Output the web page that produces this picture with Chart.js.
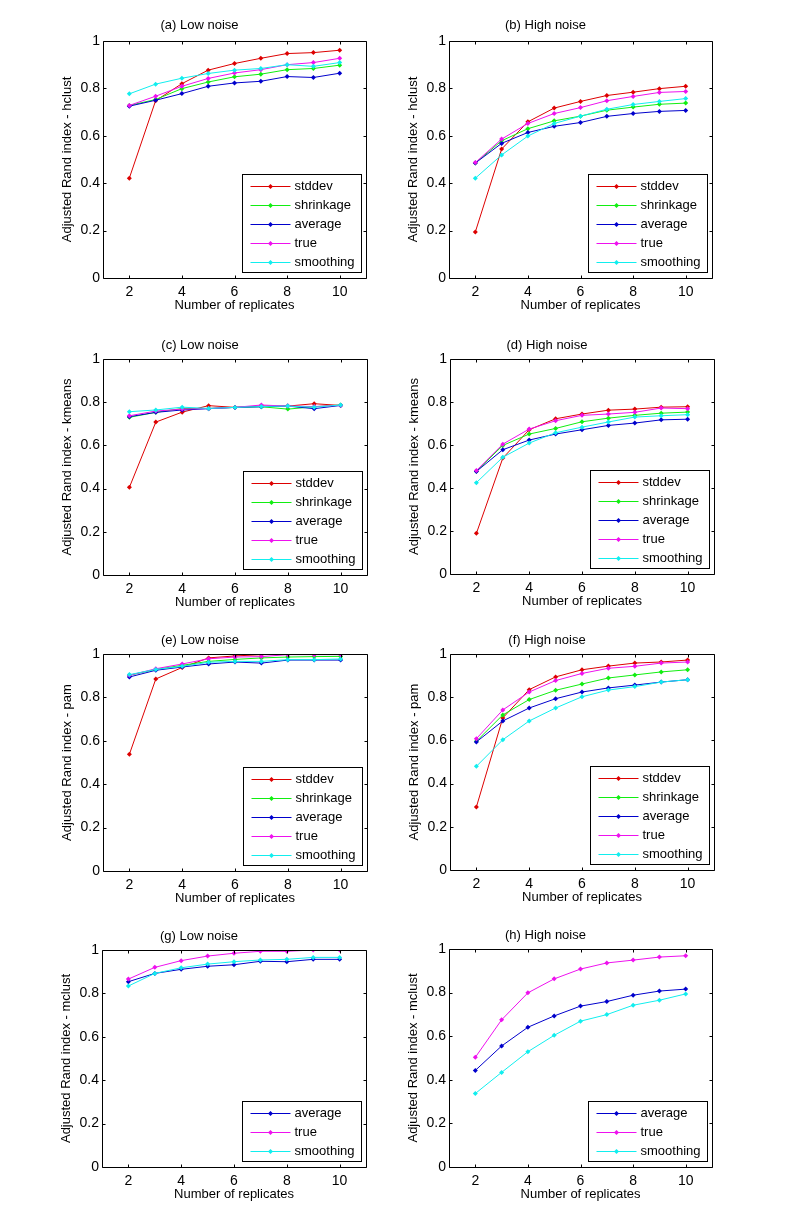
<!DOCTYPE html>
<html>
<head>
<meta charset="utf-8">
<script src="https://cdn.jsdelivr.net/npm/chart.js@4.4.0/dist/chart.umd.min.js"></script>
<style>
  body { margin: 0; background: #fff; }
  #page { position: relative; width: 787px; height: 1226px; background: #fff; }
  .panel { position: absolute; }
</style>
</head>
<body>
<div id="page"></div>
<script>
const replicates = [2, 3, 4, 5, 6, 7, 8, 9, 10];
const xTicks = [2, 4, 6, 8, 10];
const yTicks = [0, 0.2, 0.4, 0.6, 0.8, 1];
const xLabel = 'Number of replicates';

// (a) hclust, low noise
const hclustLowStddev    = [0.421, 0.748, 0.820, 0.877, 0.905, 0.927, 0.947, 0.951, 0.961];
const hclustLowShrinkage = [0.728, 0.753, 0.799, 0.827, 0.849, 0.860, 0.879, 0.884, 0.898];
const hclustLowAverage   = [0.725, 0.750, 0.778, 0.809, 0.823, 0.830, 0.850, 0.846, 0.864];
const hclustLowTrue      = [0.728, 0.767, 0.809, 0.842, 0.865, 0.879, 0.900, 0.909, 0.927];
const hclustLowSmoothing = [0.777, 0.818, 0.843, 0.863, 0.877, 0.884, 0.900, 0.893, 0.909];

// (b) hclust, high noise
const hclustHighStddev    = [0.194, 0.544, 0.659, 0.717, 0.745, 0.770, 0.784, 0.799, 0.809];
const hclustHighShrinkage = [0.485, 0.579, 0.630, 0.663, 0.683, 0.708, 0.721, 0.733, 0.738];
const hclustHighAverage   = [0.485, 0.568, 0.614, 0.640, 0.656, 0.682, 0.694, 0.703, 0.707];
const hclustHighTrue      = [0.487, 0.586, 0.652, 0.694, 0.719, 0.748, 0.766, 0.783, 0.787];
const hclustHighSmoothing = [0.421, 0.519, 0.599, 0.652, 0.683, 0.712, 0.732, 0.745, 0.757];

// (c) kmeans, low noise
const kmeansLowStddev    = [0.406, 0.708, 0.754, 0.784, 0.776, 0.782, 0.782, 0.793, 0.785];
const kmeansLowShrinkage = [0.730, 0.753, 0.771, 0.771, 0.776, 0.779, 0.768, 0.779, 0.787];
const kmeansLowAverage   = [0.733, 0.753, 0.764, 0.770, 0.776, 0.779, 0.782, 0.770, 0.785];
const kmeansLowTrue      = [0.737, 0.759, 0.768, 0.771, 0.776, 0.787, 0.782, 0.780, 0.786];
const kmeansLowSmoothing = [0.756, 0.764, 0.777, 0.771, 0.776, 0.780, 0.782, 0.777, 0.787];

// (d) kmeans, high noise
const kmeansHighStddev    = [0.189, 0.539, 0.671, 0.722, 0.744, 0.762, 0.767, 0.776, 0.778];
const kmeansHighShrinkage = [0.478, 0.598, 0.651, 0.677, 0.708, 0.725, 0.738, 0.748, 0.753];
const kmeansHighAverage   = [0.477, 0.578, 0.623, 0.651, 0.671, 0.691, 0.702, 0.717, 0.720];
const kmeansHighTrue      = [0.481, 0.604, 0.674, 0.713, 0.738, 0.744, 0.752, 0.772, 0.769];
const kmeansHighSmoothing = [0.425, 0.543, 0.609, 0.657, 0.683, 0.707, 0.730, 0.736, 0.741];

// (e) pam, low noise
const pamLowStddev    = [0.538, 0.885, 0.938, 0.982, 0.991, 0.997, 1.000, 1.000, 1.000];
const pamLowShrinkage = [0.902, 0.929, 0.948, 0.966, 0.975, 0.982, 0.986, 0.988, 0.989];
const pamLowAverage   = [0.894, 0.925, 0.940, 0.954, 0.963, 0.958, 0.972, 0.972, 0.972];
const pamLowTrue      = [0.902, 0.932, 0.954, 0.978, 0.986, 0.988, 0.997, 0.997, 0.997];
const pamLowSmoothing = [0.905, 0.929, 0.943, 0.962, 0.966, 0.966, 0.974, 0.974, 0.977];

// (f) pam, high noise
const pamHighStddev    = [0.292, 0.704, 0.835, 0.894, 0.927, 0.944, 0.958, 0.963, 0.972];
const pamHighShrinkage = [0.596, 0.718, 0.789, 0.832, 0.861, 0.889, 0.903, 0.917, 0.927];
const pamHighAverage   = [0.593, 0.690, 0.750, 0.793, 0.824, 0.843, 0.856, 0.870, 0.881];
const pamHighTrue      = [0.608, 0.741, 0.824, 0.877, 0.910, 0.934, 0.943, 0.958, 0.963];
const pamHighSmoothing = [0.480, 0.603, 0.690, 0.750, 0.802, 0.833, 0.849, 0.870, 0.881];

// (g) mclust, low noise
const mclustLowAverage   = [0.854, 0.892, 0.911, 0.925, 0.932, 0.948, 0.946, 0.957, 0.957];
const mclustLowTrue      = [0.866, 0.920, 0.951, 0.972, 0.985, 0.994, 0.994, 1.000, 1.000];
const mclustLowSmoothing = [0.834, 0.892, 0.918, 0.935, 0.946, 0.954, 0.957, 0.966, 0.966];

// (h) mclust, high noise
const mclustHighAverage   = [0.443, 0.555, 0.641, 0.693, 0.738, 0.759, 0.788, 0.807, 0.816];
const mclustHighTrue      = [0.503, 0.675, 0.799, 0.863, 0.908, 0.936, 0.949, 0.963, 0.969];
const mclustHighSmoothing = [0.337, 0.434, 0.529, 0.604, 0.669, 0.699, 0.742, 0.765, 0.794];

const seriesColors = {
  stddev: '#dd0000',
  shrinkage: '#11ee11',
  average: '#0000cc',
  true: '#ee11ee',
  smoothing: '#11eeee'
};

const panels = [
  { title: '(a) Low noise', yLabel: 'Adjusted Rand index - hclust',
    series: [['stddev', hclustLowStddev], ['shrinkage', hclustLowShrinkage], ['average', hclustLowAverage], ['true', hclustLowTrue], ['smoothing', hclustLowSmoothing]] },
  { title: '(b) High noise', yLabel: 'Adjusted Rand index - hclust',
    series: [['stddev', hclustHighStddev], ['shrinkage', hclustHighShrinkage], ['average', hclustHighAverage], ['true', hclustHighTrue], ['smoothing', hclustHighSmoothing]] },
  { title: '(c) Low noise', yLabel: 'Adjusted Rand index - kmeans',
    series: [['stddev', kmeansLowStddev], ['shrinkage', kmeansLowShrinkage], ['average', kmeansLowAverage], ['true', kmeansLowTrue], ['smoothing', kmeansLowSmoothing]] },
  { title: '(d) High noise', yLabel: 'Adjusted Rand index - kmeans',
    series: [['stddev', kmeansHighStddev], ['shrinkage', kmeansHighShrinkage], ['average', kmeansHighAverage], ['true', kmeansHighTrue], ['smoothing', kmeansHighSmoothing]] },
  { title: '(e) Low noise', yLabel: 'Adjusted Rand index - pam',
    series: [['stddev', pamLowStddev], ['shrinkage', pamLowShrinkage], ['average', pamLowAverage], ['true', pamLowTrue], ['smoothing', pamLowSmoothing]] },
  { title: '(f) High noise', yLabel: 'Adjusted Rand index - pam',
    series: [['stddev', pamHighStddev], ['shrinkage', pamHighShrinkage], ['average', pamHighAverage], ['true', pamHighTrue], ['smoothing', pamHighSmoothing]] },
  { title: '(g) Low noise', yLabel: 'Adjusted Rand index - mclust',
    series: [['average', mclustLowAverage], ['true', mclustLowTrue], ['smoothing', mclustLowSmoothing]] },
  { title: '(h) High noise', yLabel: 'Adjusted Rand index - mclust',
    series: [['average', mclustHighAverage], ['true', mclustHighTrue], ['smoothing', mclustHighSmoothing]] }
];

// plot area of each panel on the page (px), and gap from title centre to plot top
const panelBoxes = [
  { left: 103, top: 41, right: 366, bottom: 278, titleGap: 16 },
  { left: 449, top: 41, right: 712, bottom: 278, titleGap: 16 },
  { left: 103, top: 359, right: 367, bottom: 575, titleGap: 14 },
  { left: 450, top: 359, right: 714, bottom: 574, titleGap: 14 },
  { left: 103, top: 654, right: 367, bottom: 871, titleGap: 14 },
  { left: 450, top: 654, right: 714, bottom: 870, titleGap: 14 },
  { left: 102, top: 950, right: 366, bottom: 1167, titleGap: 14 },
  { left: 449, top: 949, right: 712, bottom: 1167, titleGap: 14 }
];

const FONT = "'Liberation Sans', Arial, Helvetica, sans-serif";
const AXIS_W = 70, TITLE_H = 30, XAXIS_H = 45, RIGHT_PAD = 10;
const TICK_LEN = 3;

// MATLAB style box with inward ticks, and legend box at lower right
const matlabAxes = {
  id: 'matlabAxes',
  afterDraw(chart) {
    const ctx = chart.ctx;
    const ca = chart.chartArea;
    const xs = chart.scales.x, ys = chart.scales.y;
    const l = Math.round(ca.left) + 0.5, r = Math.round(ca.right) + 0.5;
    const t = Math.round(ca.top) + 0.5, b = Math.round(ca.bottom) + 0.5;
    ctx.save();
    ctx.strokeStyle = '#000';
    ctx.lineWidth = 1;
    ctx.beginPath();
    ctx.rect(l, t, r - l, b - t);
    xs.ticks.forEach(tk => {
      const px = Math.round(xs.getPixelForValue(tk.value)) + 0.5;
      ctx.moveTo(px, b); ctx.lineTo(px, b - TICK_LEN);
      ctx.moveTo(px, t); ctx.lineTo(px, t + TICK_LEN);
    });
    ys.ticks.forEach(tk => {
      const py = Math.round(ys.getPixelForValue(tk.value)) + 0.5;
      ctx.moveTo(l, py); ctx.lineTo(l + TICK_LEN, py);
      ctx.moveTo(r, py); ctx.lineTo(r - TICK_LEN, py);
    });
    ctx.stroke();

    // legend
    const sets = chart.data.datasets;
    const w = 119, rowH = 19;
    const h = 22 + rowH * (sets.length - 1);
    const x0 = Math.round(ca.right - 5 - w) + 0.5;
    const y0 = Math.round(ca.bottom - 6 - h) + 0.5;
    ctx.fillStyle = '#fff';
    ctx.fillRect(x0, y0, w, h);
    ctx.strokeRect(x0, y0, w, h);
    ctx.font = '13px ' + FONT;
    ctx.textBaseline = 'middle';
    ctx.textAlign = 'left';
    sets.forEach((ds, i) => {
      const y = Math.round(y0 + 11 + rowH * i) + 0.5;
      ctx.strokeStyle = ds.borderColor;
      ctx.beginPath();
      ctx.moveTo(x0 + 8, y); ctx.lineTo(x0 + 48, y);
      ctx.stroke();
      ctx.fillStyle = ds.borderColor;
      ctx.beginPath();
      ctx.moveTo(x0 + 28, y - 2.5); ctx.lineTo(x0 + 30.5, y);
      ctx.lineTo(x0 + 28, y + 2.5); ctx.lineTo(x0 + 25.5, y);
      ctx.closePath(); ctx.fill();
      ctx.fillStyle = '#000';
      ctx.fillText(ds.label, x0 + 52, y);
    });
    ctx.restore();
  }
};

const page = document.getElementById('page');

panels.forEach((p, i) => {
  const box = panelBoxes[i];
  const plotW = box.right - box.left, plotH = box.bottom - box.top;
  const div = document.createElement('div');
  div.className = 'panel';
  div.style.left = (box.left - AXIS_W) + 'px';
  div.style.top = (box.top - TITLE_H) + 'px';
  const canvas = document.createElement('canvas');
  const cw = plotW + AXIS_W + RIGHT_PAD, chh = plotH + TITLE_H + XAXIS_H;
  canvas.width = cw; canvas.height = chh;
  canvas.style.width = cw + 'px'; canvas.style.height = chh + 'px';
  div.appendChild(canvas);
  page.appendChild(div);

  const n = p.series.length;
  const datasets = p.series.map(([name, vals], k) => ({
    label: name,
    data: replicates.map((x, j) => ({ x: x, y: vals[j] })),
    borderColor: seriesColors[name],
    backgroundColor: seriesColors[name],
    borderWidth: 1,
    pointStyle: 'rectRot',
    pointRadius: 2.5,
    pointBorderWidth: 0,
    tension: 0,
    order: n - k
  }));

  new Chart(canvas, {
    type: 'line',
    data: { datasets },
    options: {
      responsive: false,
      animation: false,
      events: [],
      layout: { padding: { left: 0, top: 0, right: RIGHT_PAD, bottom: 0 } },
      plugins: {
        legend: { display: false },
        tooltip: { enabled: false },
        title: {
          display: true,
          text: p.title,
          color: '#000',
          font: { family: FONT, size: 13, weight: 'normal', lineHeight: 1.2 },
          padding: { top: TITLE_H - box.titleGap - 7.8, bottom: box.titleGap - 7.8 }
        }
      },
      scales: {
        x: {
          type: 'linear',
          min: 1, max: 11,
          grid: { display: false, drawTicks: false },
          border: { display: false },
          afterBuildTicks: s => { s.ticks = xTicks.map(v => ({ value: v })); },
          afterFit: s => { s.height = XAXIS_H; },
          ticks: { color: '#000', padding: 6, font: { family: FONT, size: 14 },
                   callback: v => String(v) },
          title: {
            display: true, text: xLabel, color: '#000',
            font: { family: FONT, size: 13, lineHeight: 1.2 },
            padding: { top: 0, bottom: 10.2 }
          }
        },
        y: {
          type: 'linear',
          min: 0, max: 1,
          grid: { display: false, drawTicks: false },
          border: { display: false },
          afterBuildTicks: s => { s.ticks = yTicks.map(v => ({ value: v })); },
          afterFit: s => { s.width = AXIS_W; },
          ticks: { color: '#000', padding: 3, font: { family: FONT, size: 14 },
                   callback: v => String(Math.round(v * 10) / 10) },
          title: {
            display: true, text: p.yLabel, color: '#000',
            font: { family: FONT, size: 13, lineHeight: 1.2 },
            padding: { top: 26.2, bottom: 0 }
          }
        }
      }
    },
    plugins: [matlabAxes]
  });
});
</script>
</body>
</html>
